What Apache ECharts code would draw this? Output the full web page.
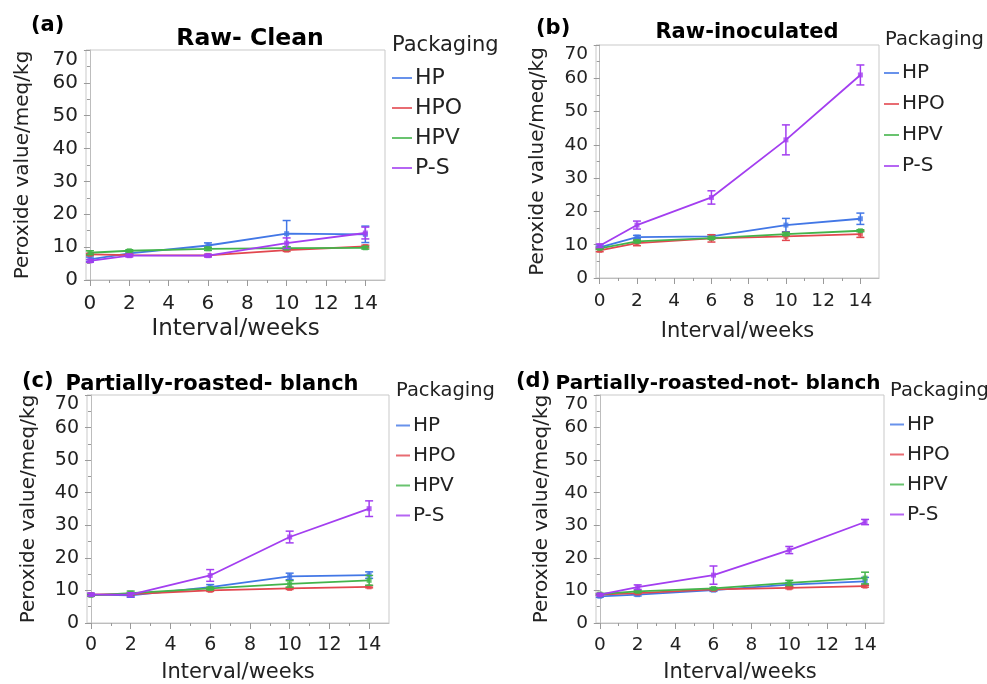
<!DOCTYPE html>
<html>
<head>
<meta charset="utf-8">
<script src="https://cdn.jsdelivr.net/npm/echarts@6/dist/echarts.min.js"></script>
<style>html,body{margin:0;padding:0;background:#fff}#c{width:987px;height:684px}</style>
</head>
<body>
<div id="c"></div>
<script>
// ---- data ----
const weeks = [0, 2, 6, 10, 14];
const xTickLabels = [0, 2, 4, 6, 8, 10, 12, 14];
const xMinorTicks = [1, 3, 5, 7, 9, 11, 13];
const packaging = ['HP', 'HPO', 'HPV', 'P-S'];
const panelLetters = ['(a)', '(b)', '(c)', '(d)'];
const panelTitles = ['Raw- Clean', 'Raw-inoculated', 'Partially-roasted- blanch', 'Partially-roasted-not- blanch'];

// (a) Raw- Clean
const a_HP  = [6.3, 8.1, 10.5, 14.1, 13.9];
const a_HPO = [7.8, 7.6, 7.5, 9.1, 10.2];
const a_HPV = [8.3, 8.9, 9.5, 9.7, 9.8];
const a_PS  = [5.8, 7.4, 7.4, 11.2, 14.3];
const a_HP_err  = [0.7, 0.4, 0.8, 4.0, 2.5];
const a_HPO_err = [0.3, 0.3, 0.3, 0.4, 0.4];
const a_HPV_err = [0.6, 0.3, 0.5, 0.4, 0.4];
const a_PS_err  = [0.4, 0.4, 0.4, 1.6, 1.8];

// (b) Raw-inoculated
const b_HP  = [9.2, 12.3, 12.5, 15.9, 17.8];
const b_HPO = [8.3, 10.5, 11.9, 12.5, 13.2];
const b_HPV = [8.9, 11.0, 12.0, 13.2, 14.2];
const b_PS  = [9.7, 15.9, 24.2, 41.5, 61.0];
const b_HP_err  = [0.4, 0.5, 0.5, 2.0, 1.7];
const b_HPO_err = [0.4, 0.8, 1.1, 1.2, 1.0];
const b_HPV_err = [0.3, 0.4, 0.4, 0.4, 0.3];
const b_PS_err  = [0.5, 1.2, 2.0, 4.5, 3.0];

// (c) Partially-roasted- blanch
const c_HP  = [8.7, 8.5, 11.0, 14.3, 14.7];
const c_HPO = [8.7, 8.9, 10.0, 10.6, 11.1];
const c_HPV = [8.5, 9.2, 10.6, 12.0, 13.1];
const c_PS  = [8.7, 8.7, 14.6, 26.4, 35.1];
const c_HP_err  = [0.4, 0.6, 0.8, 1.0, 1.0];
const c_HPO_err = [0.3, 0.3, 0.3, 0.3, 0.3];
const c_HPV_err = [0.3, 0.6, 0.4, 1.0, 1.5];
const c_PS_err  = [0.4, 0.6, 1.8, 1.8, 2.4];

// (d) Partially-roasted-not- blanch
const d_HP  = [8.2, 8.7, 10.1, 11.8, 12.8];
const d_HPO = [8.7, 9.2, 10.3, 10.8, 11.3];
const d_HPV = [8.9, 9.7, 10.6, 12.3, 13.8];
const d_PS  = [8.7, 11.0, 14.7, 22.4, 31.0];
const d_HP_err  = [0.3, 0.4, 0.4, 0.6, 1.2];
const d_HPO_err = [0.2, 0.3, 0.3, 0.3, 0.3];
const d_HPV_err = [0.2, 0.3, 0.3, 0.8, 1.8];
const d_PS_err  = [0.3, 0.7, 2.8, 1.1, 0.8];

const panelValues = [
  [a_HP, a_HPO, a_HPV, a_PS],
  [b_HP, b_HPO, b_HPV, b_PS],
  [c_HP, c_HPO, c_HPV, c_PS],
  [d_HP, d_HPO, d_HPV, d_PS]
];
const panelErrors = [
  [a_HP_err, a_HPO_err, a_HPV_err, a_PS_err],
  [b_HP_err, b_HPO_err, b_HPV_err, b_PS_err],
  [c_HP_err, c_HPO_err, c_HPV_err, c_PS_err],
  [d_HP_err, d_HPO_err, d_HPV_err, d_PS_err]
];

// ---- layout / style ----
const colors = ['#4277e6', '#e2474f', '#43b44b', '#a33ef0'];
const FONT = 'DejaVu Sans';
const grids = [
  {left: 86, top: 50, width: 299, height: 230},
  {left: 596, top: 45, width: 283, height: 233},
  {left: 87, top: 395, width: 302, height: 230},
  {left: 596, top: 395, width: 288, height: 230}
];
// per-panel font sizes [tick, xName, yName, title, legend, packaging]
const fs = [
  [20, 23, 20, 23.5, 22, 21],
  [18.5, 21, 20, 21, 20, 19.5],
  [19, 21, 20, 21, 20, 19.5],
  [18.5, 21, 20, 20, 20, 19.5]
];
const yNameGap = [53, 48, 48, 44];
const xNameGap = [38, 43, 39, 39];
const xLabelMargin = [14, 14, 13, 13];
const letterPos = [[26, 10], [531, 13], [17, 366], [511, 366]];
const titleCenter = [[245, 22], [742, 17], [207, 369], [713, 369]];
const packPos = [[387, 30], [880, 25], [391, 376], [885, 376]];
const legendPos = [[392, 67], [884, 62.5], [396, 415], [890, 414]];
const legendGap = [8, 10, 9, 9];
const legendIconW = [20, 15, 14, 14];

const option = {
  animation: false,
  backgroundColor: '#fff',
  color: colors,
  textStyle: {fontFamily: FONT},
  title: [],
  legend: [],
  grid: [],
  xAxis: [],
  yAxis: [],
  series: []
};

for (let p = 0; p < 4; p++) {
  const g = grids[p];
  const f = fs[p];
  option.grid.push(Object.assign({show: true, borderColor: '#c9c9c9', borderWidth: 1, backgroundColor: '#fff'}, g));
  option.title.push({text: panelLetters[p], left: letterPos[p][0], top: letterPos[p][1],
    textStyle: {fontFamily: FONT, fontWeight: 'bold', fontSize: 21, color: '#000'}});
  option.title.push({text: panelTitles[p], left: titleCenter[p][0], top: titleCenter[p][1], textAlign: 'center',
    textStyle: {fontFamily: FONT, fontWeight: 'bold', fontSize: f[3], color: '#000'}});
  option.title.push({text: 'Packaging', left: packPos[p][0], top: packPos[p][1],
    textStyle: {fontFamily: FONT, fontWeight: 'normal', fontSize: f[5], color: '#222'}});
  option.legend.push({
    data: packaging, orient: 'vertical', left: legendPos[p][0], top: legendPos[p][1],
    icon: 'rect', itemWidth: legendIconW[p], itemHeight: 2, itemGap: legendGap[p], padding: 0,
    selectedMode: false,
    textStyle: {fontFamily: FONT, fontSize: f[4], color: '#222', lineHeight: 21, padding: [0, 0, 0, -2]}
  });
  // main x axis
  option.xAxis.push({
    type: 'value', gridIndex: p, min: -0.2, max: 15,
    name: 'Interval/weeks', nameLocation: 'middle', nameGap: xNameGap[p],
    nameTextStyle: {fontFamily: FONT, fontSize: f[1], color: '#222'},
    axisLine: {show: true, lineStyle: {color: '#bdbdbd'}},
    axisTick: {show: true, inside: false, length: 6, lineStyle: {color: '#9a9a9a'}, customValues: xTickLabels},
    axisLabel: {show: true, margin: xLabelMargin[p], fontFamily: FONT, fontSize: f[0], color: '#222', customValues: xTickLabels},
    splitLine: {show: false}
  });
  // minor x ticks overlay
  option.xAxis.push({
    type: 'value', gridIndex: p, min: -0.2, max: 15, position: 'bottom',
    axisLine: {show: false},
    axisTick: {show: true, length: 3, lineStyle: {color: '#9a9a9a'}, customValues: xMinorTicks},
    axisLabel: {show: false, customValues: xMinorTicks},
    splitLine: {show: false}
  });
  option.yAxis.push({
    type: 'value', gridIndex: p, min: 0, max: 70, interval: 10,
    name: 'Peroxide value/meq/kg', nameLocation: 'middle', nameGap: yNameGap[p], nameRotate: 90,
    nameTextStyle: {fontFamily: FONT, fontSize: f[2], color: '#222'},
    axisLine: {show: true, lineStyle: {color: '#bdbdbd'}},
    axisTick: {show: true, length: 6, lineStyle: {color: '#9a9a9a'}},
    minorTick: {show: true, splitNumber: 2, length: 3, lineStyle: {color: '#9a9a9a'}},
    axisLabel: {margin: 8, fontFamily: FONT, fontSize: f[0], color: '#222',
      verticalAlignMaxLabel: 'top'},
    splitLine: {show: false}
  });
  for (let s = 0; s < 4; s++) {
    const vals = panelValues[p][s];
    const errs = panelErrors[p][s];
    option.series.push({
      type: 'line', name: packaging[s], xAxisIndex: p * 2, yAxisIndex: p,
      data: weeks.map((w, i) => [w, vals[i]]),
      symbol: 'rect', symbolSize: 5, showSymbol: true,
      lineStyle: {width: 1.8, color: colors[s]},
      itemStyle: {color: colors[s], opacity: 0.8},
      z: 3 + s
    });
    option.series.push({
      type: 'custom', name: packaging[s] + ' error', xAxisIndex: p * 2, yAxisIndex: p,
      data: weeks.map((w, i) => [w, vals[i] - errs[i], vals[i] + errs[i]]),
      renderItem: function (params, api) {
        const lo = api.coord([api.value(0), api.value(1)]);
        const hi = api.coord([api.value(0), api.value(2)]);
        const hw = 4;
        const st = {stroke: colors[s], lineWidth: 1.5, fill: null};
        return {type: 'group', children: [
          {type: 'line', shape: {x1: lo[0], y1: lo[1], x2: hi[0], y2: hi[1]}, style: st},
          {type: 'line', shape: {x1: lo[0] - hw, y1: lo[1], x2: lo[0] + hw, y2: lo[1]}, style: st},
          {type: 'line', shape: {x1: hi[0] - hw, y1: hi[1], x2: hi[0] + hw, y2: hi[1]}, style: st}
        ]};
      },
      z: 3 + s
    });
  }
}

const chart = echarts.init(document.getElementById('c'), null, {renderer: 'canvas'});
chart.setOption(option);
</script>
</body>
</html>
